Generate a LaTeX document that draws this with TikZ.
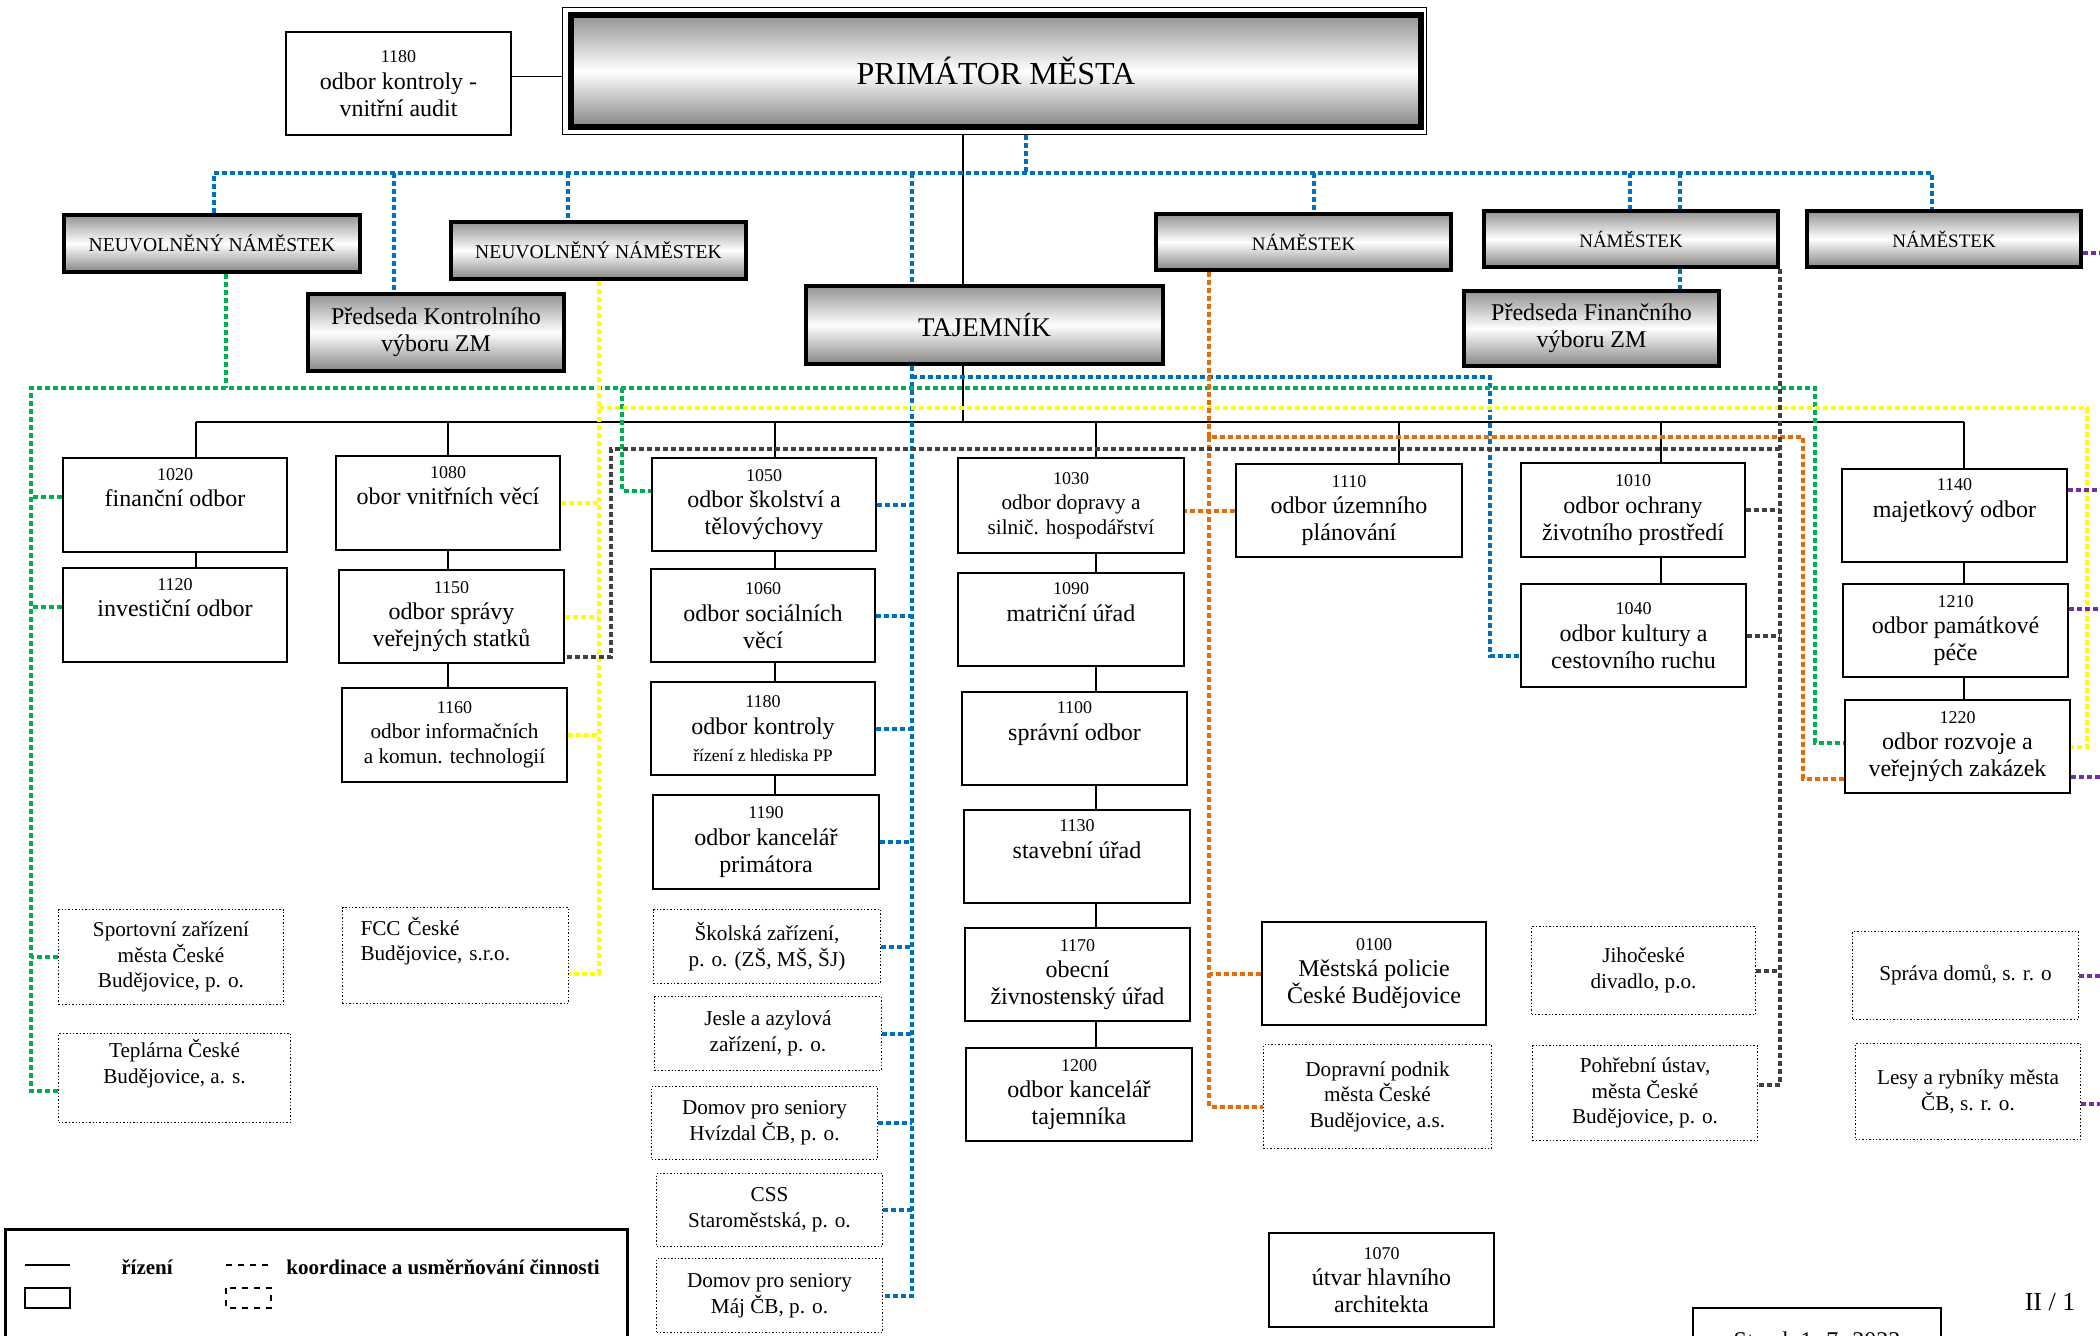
\documentclass[tikz,border=0pt]{standalone}
\usepackage{fontspec}
\setmainfont{Liberation Serif}

\definecolor{cblue}{RGB}{0,112,192}
\definecolor{cgreen}{RGB}{0,176,80}
\definecolor{cyellow}{RGB}{255,255,0}
\definecolor{corange}{RGB}{228,108,10}
\definecolor{cgray}{RGB}{64,64,64}
\definecolor{cpurple}{RGB}{112,48,160}

\newcommand{\cnum}[1]{{\fontsize{9}{10}\selectfont #1}}
\newcommand{\csmall}[1]{{\fontsize{8.8}{10}\selectfont #1}}

\tikzset{
    unitbox/.style={draw, line width=1.1pt, fill=white, align=center, inner sep=2pt, font=\fontsize{12}{13.4}\selectfont},
    unitsub/.style={unitbox, font=\fontsize{10.6}{12.5}\selectfont},
    orgbox/.style={draw, densely dotted, line width=0.7pt, align=center, inner sep=2pt, font=\fontsize{10.6}{12.8}\selectfont},
    headbox/.style={draw, line width=2pt, top color=gray!85, bottom color=gray!95, middle color=white, align=center, inner sep=2pt, font=\fontsize{12}{13.4}\selectfont},
    depbox/.style={headbox, font=\fontsize{9.8}{12}\selectfont},
    ctrl/.style={line width=0.8pt},
    coop/.style={line width=2pt, dash pattern=on 2.5pt off 1.5pt},
    blu/.style={coop, draw=cblue},
    grn/.style={coop, draw=cgreen},
    ylw/.style={coop, draw=cyellow},
    orn/.style={coop, draw=corange},
    gry/.style={coop, draw=cgray},
    prp/.style={coop, draw=cpurple}
}

\begin{document}
\begin{tikzpicture}[x=0.5pt, y=-0.5pt]
    \useasboundingbox (0,0) rectangle (2100,1335);
    \clip (0,0) rectangle (2100,1335);
    \fill[white] (0,0) rectangle (2100,1335);

    % vedeni
    \node[draw, line width=0.6pt, minimum width=432pt, minimum height=63.7pt] (prif) at (994.5,71) {};
    \node[headbox, line width=3pt, minimum width=425pt, minimum height=56pt, font=\fontsize{16}{19}\selectfont] (pri) at (996,71) {PRIMÁTOR MĚSTA};
    \node[unitbox, minimum width=112.5pt, minimum height=51.5pt] (audit) at (398.5,83.5) {\cnum{1180}\\odbor kontroly -\\vnitřní audit};

    \node[depbox, minimum width=148pt, minimum height=28.5pt] (nn1) at (212,243.5) {NEUVOLNĚNÝ NÁMĚSTEK};
    \node[depbox, minimum width=147.5pt, minimum height=28.5pt] (nn2) at (598.5,250.5) {NEUVOLNĚNÝ NÁMĚSTEK};
    \node[depbox, font=\fontsize{9.5}{11}\selectfont, minimum width=147.5pt, minimum height=28pt] (nm1) at (1303.5,242) {NÁMĚSTEK};
    \node[depbox, font=\fontsize{9.5}{11}\selectfont, minimum width=147pt, minimum height=28pt] (nm2) at (1631,239) {NÁMĚSTEK};
    \node[depbox, font=\fontsize{9.5}{11}\selectfont, minimum width=137pt, minimum height=28pt] (nm3) at (1944,239) {NÁMĚSTEK};
    \node[headbox, minimum width=128pt, minimum height=38.5pt] (pk) at (436,332.5) {Předseda Kontrolního\\výboru ZM};
    \node[headbox, minimum width=127.5pt, minimum height=37.5pt] (pf) at (1591.5,328.5) {Předseda Finančního\\výboru ZM};
    \node[headbox, minimum width=178.5pt, minimum height=39pt, font=\fontsize{13.5}{16}\selectfont] (taj) at (984.5,325) {TAJEMNÍK};

    % odbory
    \node[unitbox, minimum width=112pt, minimum height=47pt] (f1020) at (175,505) {\cnum{1020}\\finanční odbor\\\strut};
    \node[unitbox, minimum width=112pt, minimum height=47pt] (f1120) at (175,615) {\cnum{1120}\\investiční odbor\\\strut};
    \node[unitbox, minimum width=112pt, minimum height=47pt] (f1080) at (448,503) {\cnum{1080}\\obor vnitřních věcí\\\strut};
    \node[unitbox, minimum width=112.5pt, minimum height=46.5pt] (f1150) at (451.5,616.5) {\cnum{1150}\\odbor správy\\veřejných statků};
    \node[unitsub, minimum width=112.5pt, minimum height=47pt] (f1160) at (454.5,735) {\cnum{1160}\\odbor informačních\\a komun. technologií};
    \node[unitbox, minimum width=112pt, minimum height=46.5pt] (f1050) at (764,504.5) {\cnum{1050}\\odbor školství a\\tělovýchovy};
    \node[unitbox, minimum width=112pt, minimum height=46.5pt] (f1060) at (763,615.5) {\cnum{1060}\\odbor sociálních\\věcí};
    \node[unitbox, minimum width=112pt, minimum height=46.5pt] (f1180) at (763,728.5) {\cnum{1180}\\odbor kontroly\\\csmall{řízení z hlediska PP}};
    \node[unitbox, minimum width=113pt, minimum height=47pt] (f1190) at (766,842) {\cnum{1190}\\odbor kancelář\\primátora};
    \node[unitsub, minimum width=113pt, minimum height=47.5pt] (f1030) at (1071,505.5) {\cnum{1030}\\odbor dopravy a\\silnič. hospodářství};
    \node[unitbox, minimum width=113pt, minimum height=46.5pt] (f1090) at (1071,619.5) {\cnum{1090}\\matriční úřad\\\strut};
    \node[unitbox, minimum width=112.5pt, minimum height=46.5pt] (f1100) at (1074.5,738.5) {\cnum{1100}\\správní odbor\\\strut};
    \node[unitbox, minimum width=113pt, minimum height=46.5pt] (f1130) at (1077,856.5) {\cnum{1130}\\stavební úřad\\\strut};
    \node[unitbox, minimum width=112.5pt, minimum height=46.5pt] (f1170) at (1077.5,974.5) {\cnum{1170}\\obecní\\živnostenský úřad};
    \node[unitbox, minimum width=113pt, minimum height=46.5pt] (f1200) at (1079,1094.5) {\cnum{1200}\\odbor kancelář\\tajemníka};
    \node[unitbox, minimum width=113pt, minimum height=46.5pt] (f1110) at (1349,510.5) {\cnum{1110}\\odbor územního\\plánování};
    \node[unitbox, minimum width=112pt, minimum height=47pt] (f1010) at (1633,510) {\cnum{1010}\\odbor ochrany\\životního prostředí};
    \node[unitbox, minimum width=112.5pt, minimum height=51.5pt] (f1040) at (1633.5,635.5) {\cnum{1040}\\odbor kultury a\\cestovního ruchu};
    \node[unitbox, minimum width=112.5pt, minimum height=46.5pt] (f1140) at (1954.5,515.5) {\cnum{1140}\\majetkový odbor\\\strut};
    \node[unitbox, minimum width=112.5pt, minimum height=46.5pt] (f1210) at (1955.5,630.5) {\cnum{1210}\\odbor památkové\\péče};
    \node[unitbox, minimum width=112.5pt, minimum height=46.5pt] (f1220) at (1957.5,746.5) {\cnum{1220}\\odbor rozvoje a\\veřejných zakázek};
    \node[unitbox, minimum width=112pt, minimum height=51.5pt] (f0100) at (1374,973.5) {\cnum{0100}\\Městská policie\\České Budějovice};
    \node[unitbox, minimum width=112.5pt, minimum height=47pt] (f1070) at (1381.5,1280) {\cnum{1070}\\útvar hlavního\\architekta};

    % organizace
    \node[orgbox, minimum width=112.5pt, minimum height=47.5pt] (sport) at (171,957) {Sportovní zařízení\\města České\\Budějovice, p. o.};
    \node[orgbox, align=left, text width=95pt, minimum width=113pt, minimum height=48pt] (fcc) at (455.5,955.5) {FCC České\\Budějovice, s.r.o.\\\strut};
    \node[orgbox, minimum width=116pt, minimum height=44.5pt] (tepl) at (174.5,1078) {Teplárna České\\Budějovice, a. s.\\\strut};
    \node[orgbox, minimum width=113.5pt, minimum height=37pt] (skol) at (767,946.5) {Školská zařízení,\\p. o. (ZŠ, MŠ, ŠJ)};
    \node[orgbox, minimum width=113.5pt, minimum height=37pt] (jesle) at (768,1033.5) {Jesle a azylová\\zařízení, p. o.};
    \node[orgbox, minimum width=113pt, minimum height=36.5pt] (hviz) at (764.5,1123) {Domov pro seniory\\Hvízdal ČB, p. o.};
    \node[orgbox, minimum width=113pt, minimum height=36.5pt] (css) at (769.5,1210) {CSS\\Staroměstská, p. o.};
    \node[orgbox, minimum width=113pt, minimum height=37pt] (maj) at (769.5,1295.5) {Domov pro seniory\\Máj ČB, p. o.};
    \node[orgbox, minimum width=114pt, minimum height=52pt] (dpmcb) at (1377.5,1096.5) {Dopravní podnik\\města České\\Budějovice, a.s.};
    \node[orgbox, minimum width=112pt, minimum height=44pt] (jd) at (1643.5,970.5) {Jihočeské\\divadlo, p.o.};
    \node[orgbox, minimum width=112.5pt, minimum height=47.5pt] (pu) at (1645,1093) {Pohřební ústav,\\města České\\Budějovice, p. o.};
    \node[orgbox, minimum width=113pt, minimum height=44pt] (sd) at (1965.5,975.5) {Správa domů, s. r. o};
    \node[orgbox, minimum width=112.5pt, minimum height=48pt] (lesy) at (1968,1091.5) {Lesy a rybníky města\\ČB, s. r. o.};

    % rizeni
    \coordinate (busL) at (196,422);
    \coordinate (busR) at (1964,422);
    \coordinate (tx) at (963,0);
    \draw[ctrl] ([yshift=3.5pt]audit.east) -- ([yshift=3.5pt]audit.east -| prif.west);
    \draw[ctrl] (prif.south -| tx) -- (taj.north -| tx);
    \draw[ctrl] (taj.south -| tx) -- (tx |- busL);
    \draw[ctrl] (busL) -- (busR);
    \foreach \x/\a in {196/f1020, 448/f1080, 775/f1050, 1096/f1030, 1399/f1110, 1661/f1010, 1964/f1140} {
        \coordinate (dr) at (\x,422);
        \draw[ctrl] (dr) -- (dr |- \a.north);
    }
    \foreach \x/\a/\b in {196/f1020/f1120, 448/f1080/f1150, 448/f1150/f1160, 775/f1050/f1060, 775/f1060/f1180, 775/f1180/f1190,
        1096/f1030/f1090, 1096/f1090/f1100, 1096/f1100/f1130, 1096/f1130/f1170, 1096/f1170/f1200,
        1661/f1010/f1040, 1964/f1140/f1210, 1964/f1210/f1220} {
        \coordinate (cx) at (\x,0);
        \draw[ctrl] (\a.south -| cx) -- (\b.north -| cx);
    }

    % koordinace - modra
    \coordinate (bt1) at (214,173);
    \coordinate (bt2) at (1932,173);
    \coordinate (bp) at (1026,173);
    \coordinate (bf) at (1680,0);
    \coordinate (brail) at (912,173);
    \coordinate (bj1) at (912,377);
    \coordinate (bj2) at (1490,377);
    \draw[blu] (nn1.north -| bt1) |- (bt2) -- (nm3.north -| bt2);
    \draw[blu] (prif.south -| bp) -- (bp);
    \foreach \x/\n in {394/pk, 568/nn2, 1314/nm1, 1630/nm2, 1680/nm2} {
        \coordinate (bd) at (\x,173);
        \draw[blu] (bd) -- (bd |- \n.north);
    }
    \draw[blu] (nm2.south -| bf) -- (pf.north -| bf);
    \draw[blu] (brail) -- (taj.north -| brail);
    \draw[blu] (taj.south -| brail) |- (maj.east);
    \foreach \n in {f1050,f1060,f1180,f1190,skol,jesle,hviz,css}
        \draw[blu] (\n.east) -- (\n.east -| brail);
    \draw[blu] (bj1) -- (bj2) |- ([yshift=-10pt]f1040.west);

    % zelena
    \coordinate (gA) at (226,388);
    \coordinate (gB) at (622,388);
    \coordinate (gL) at (31,388);
    \coordinate (gR) at (1815,388);
    \draw[grn] (nn1.south -| gA) -- (gA);
    \draw[grn] ([yshift=-6.5pt]tepl.west) -| (gL) -- (gR) |- ([yshift=2pt]f1220.west);
    \draw[grn] (gB) |- ([yshift=7pt]f1050.west);
    \foreach \n/\s in {f1020/4pt, f1120/4pt, sport/0pt}
        \draw[grn] ([yshift=\s]\n.west) -- ([yshift=\s]\n.west -| gL);

    % zluta
    \coordinate (yR) at (2087,408);
    \draw[ylw] (nn2.south) |- ([yshift=-9pt]fcc.east);
    \draw[ylw] (nn2.south |- yR) -- (yR) |- (f1220.east);
    \foreach \n in {f1080,f1150,f1160}
        \draw[ylw] (\n.east) -- (\n.east -| nn2.south);

    % oranzova
    \coordinate (oR) at (1209,437);
    \coordinate (oC) at (1803,437);
    \draw[orn] (nm1.south -| oR) -- (oR) -- (oC) |- ([yshift=-16pt]f1220.west);
    \draw[orn] (oR) |- ([yshift=-5pt]dpmcb.west);
    \draw[orn] (f0100.west) -- (f0100.west -| oR);
    \draw[orn] (f1110.west) -- (f1110.west -| f1030.east);

    % seda
    \coordinate (kR) at (1780,449);
    \coordinate (kL) at (611,449);
    \draw[gry] (nm2.south -| kR) |- ([yshift=4pt]pu.east);
    \draw[gry] (kR) -- (kL) |- ([yshift=-20pt]f1150.east);
    \foreach \n in {f1010,f1040,jd}
        \draw[gry] (\n.east) -- (\n.east -| kR);

    % fialova
    \coordinate (pE) at (2100,0);
    \foreach \n/\s in {nm3/-7pt, f1140/13pt, f1210/11pt, f1220/-15pt, sd/0pt, lesy/-6pt}
        \draw[prp] ([yshift=\s]\n.east) -- ([yshift=\s]\n.east -| pE);

    % legenda
    \node[draw, line width=1.1pt, minimum width=311pt, minimum height=70.5pt] (legend) at (316.5,1300) {};
    \node[font=\fontsize{10.5}{12}\selectfont\bfseries] (lgctrl) at (147,1267) {řízení};
    \node[anchor=west, inner sep=0pt, font=\fontsize{10.5}{12}\selectfont\bfseries] (lgcoop) at (286,1267) {koordinace a usměrňování činnosti};
    \draw[line width=0.8pt] (25,1265) -- (70,1265);
    \draw[dashed, line width=0.7pt] (226,1265) -- (271,1265);
    \draw[line width=1.1pt] (25,1288) rectangle (70,1308);
    \draw[dashed, line width=0.7pt] (226,1288) rectangle (271,1308);

    \node[unitbox, minimum width=124pt, minimum height=32pt] (stav) at (1817,1340) {Stav k 1. 7. 2023};
    \node[font=\fontsize{13}{15}\selectfont] (page) at (2050,1302) {II / 1};

\end{tikzpicture}
\end{document}
